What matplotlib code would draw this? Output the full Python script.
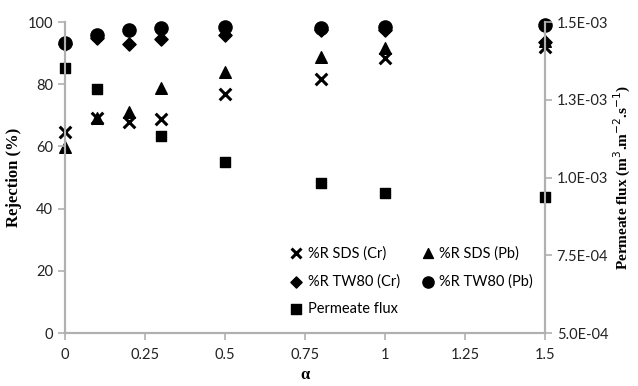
import matplotlib
matplotlib.use('Agg')
import matplotlib.pyplot as plt

alpha = [0, 0.1, 0.2, 0.3, 0.5, 0.8, 1.0, 1.5]
sds_cr = [64.7, 69.0, 68.0, 68.7, 76.7, 81.7, 88.5, 92.0]
sds_pb = [59.9, 69.0, 71.0, 78.9, 84.0, 88.9, 91.5, 93.8]
tw80_cr = [93.0, 94.9, 92.8, 94.5, 95.8, 97.5, 97.5, 93.5]
tw80_pb = [93.2, 95.8, 97.4, 98.2, 98.5, 98.2, 98.5, 99.0]
flux_alpha = [0, 0.1, 0.3, 0.5, 0.8, 1.0, 1.5]
flux = [1.351e-3, 1.284e-3, 1.133e-3, 1.049e-3, 0.983e-3, 0.949e-3, 0.937e-3]

xticks = [0, 0.25, 0.5, 0.75, 1, 1.25, 1.5]
xticklabels = ['0', '0.25', '0.5', '0.75', '1', '1.25', '1.5']
rticks = [5.0e-4, 7.5e-4, 1.0e-3, 1.25e-3, 1.5e-3]
rticklabels = ['5.0E-04', '7.5E-04', '1.0E-03', '1.3E-03', '1.5E-03']

tickfont = 'Lato'
labfont = 'Liberation Serif'
grey = '#b0b0b0'

fig = plt.figure(figsize=(6.38, 3.86), dpi=100)
ax = fig.add_axes([0.102, 0.137, 0.752, 0.806])
ax2 = ax.twinx()

h1 = ax.scatter(alpha, sds_cr, marker='x', s=70, linewidths=2.2, c='black', label='%R SDS (Cr)')
h2 = ax.scatter(alpha, sds_pb, marker='^', s=70, c='black', label='%R SDS (Pb)')
h3 = ax.scatter(alpha, tw80_cr, marker='D', s=45, c='black', label='%R TW80 (Cr)')
h4 = ax.scatter(alpha, tw80_pb, marker='o', s=90, c='black', label='%R TW80 (Pb)')
h5 = ax2.scatter(flux_alpha, flux, marker='s', s=60, c='black', label='Permeate flux')

for a in (ax, ax2):
    a.set_xlim(0, 1.5)
    a.spines['top'].set_visible(False)
    for sp in ('left', 'right', 'bottom'):
        a.spines[sp].set_color(grey)
        a.spines[sp].set_linewidth(1.5)
    a.tick_params(colors=grey, length=5, width=1.2, labelcolor='#222222', labelsize=10.5)

for h in (h1, h2, h3, h4, h5):
    h.set_clip_on(False)

ax.set_ylim(0, 100)
ax.set_yticks([0, 20, 40, 60, 80, 100])
ax.set_xticks(xticks)
ax.set_xticklabels(xticklabels, fontfamily=tickfont)
for t in ax.get_yticklabels():
    t.set_fontfamily(tickfont)
ax.tick_params(axis='x', pad=6)

ax2.set_ylim(5e-4, 1.5e-3)
ax2.set_yticks(rticks)
ax2.set_yticklabels(rticklabels, fontfamily=tickfont)

ax.set_ylabel('Rejection (%)', fontfamily=labfont, fontweight='bold', fontsize=12, labelpad=4)
ax.set_xlabel('α', fontfamily=labfont, fontweight='bold', fontsize=12, labelpad=3)
ax2.set_ylabel('Permeate flux (m$^3$.m$^{-2}$.s$^{-1}$)', fontfamily=labfont,
               fontweight='bold', fontsize=11, labelpad=3)

# row-major order as in the reference (legend fills columns first)
handles = [h1, h3, h5, h2, h4]
labels = ['%R SDS (Cr)', '%R TW80 (Cr)', 'Permeate flux', '%R SDS (Pb)', '%R TW80 (Pb)']
leg = fig.legend(handles, labels,
                 loc='upper left', bbox_to_anchor=(0.437, 0.378), ncol=2, frameon=False,
                 handletextpad=0.0, columnspacing=1.1, labelspacing=0.95, borderaxespad=0,
                 handlelength=1.6, markerscale=0.85,
                 prop={'family': tickfont, 'size': 10.5}, scatterpoints=1)

fig.savefig('out.png', dpi=100)
